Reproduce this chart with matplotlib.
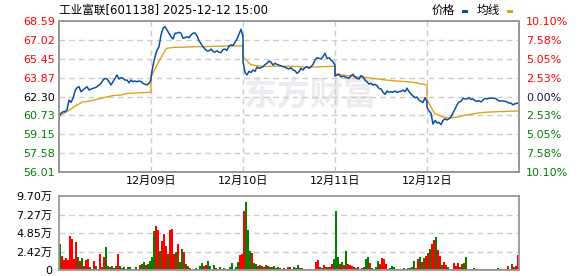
import numpy as np
import matplotlib
matplotlib.use('Agg')
import matplotlib.pyplot as plt
from matplotlib.patches import Rectangle

plt.rcParams['font.family'] = ['DejaVu Sans', 'Noto Sans CJK SC']

# === dados (5 pregões, 工业富联) ===
prev_close = 62.30
day_labels = ['12月09日', '12月10日', '12月11日', '12月12日']
price_ticks = [56.01, 57.58, 59.15, 60.73, 62.30, 63.87, 65.45, 67.02, 68.59]
pct_labels = ['10.10%', '7.58%', '5.05%', '2.53%', '0.00%', '2.53%', '5.05%', '7.58%', '10.10%']
vol_ticks = [0, 2.42, 4.85, 7.27, 9.70]
vol_labels = ['0', '2.42万', '4.85万', '7.27万', '9.70万']

price_d1 = [60.62, 60.90, 61.03, 61.03, 61.17, 62.00, 61.82, 62.15, 62.76, 63.03,
            63.12, 62.70, 62.84, 62.98, 63.12, 62.84, 62.92, 62.98, 63.03, 63.12,
            63.26, 63.40, 63.67, 63.81, 63.76, 63.53, 63.26, 63.53, 63.81, 64.09,
            63.76, 63.87, 63.81, 63.67, 63.67, 63.45, 63.67, 63.53, 63.59, 63.53,
            63.59, 63.53, 63.40, 63.32, 63.26, 63.40, 63.67]
price_d2 = [63.90, 64.90, 65.60, 66.17, 66.45, 67.42, 67.98, 68.12, 67.84, 67.57,
            67.28, 67.09, 67.57, 67.57, 67.65, 67.57, 67.15, 67.20, 67.28, 67.20,
            67.42, 67.57, 67.60, 67.35, 66.95, 66.70, 66.45, 66.25, 66.10, 66.10,
            66.25, 66.05, 66.00, 66.10, 66.00, 65.95, 66.20, 66.25, 66.15, 66.50,
            66.60, 66.55, 66.80, 67.10, 67.50, 67.90, 67.30]
price_d3 = [65.20, 64.30, 64.10, 64.40, 64.30, 64.50, 64.40, 64.75, 64.65, 64.70,
            64.78, 64.95, 65.07, 65.26, 65.15, 64.92, 65.07, 64.97, 64.92, 64.85,
            64.78, 64.75, 64.65, 64.60, 64.70, 64.51, 64.45, 64.23, 64.37, 64.65,
            64.51, 64.70, 64.78, 64.65, 64.78, 64.97, 65.34, 65.53, 65.48, 65.43,
            65.62, 65.90, 65.48, 65.53, 65.34, 65.20, 64.90]
price_d4 = [64.00, 64.09, 64.15, 63.93, 64.00, 63.93, 63.87, 63.81, 64.04, 64.15,
            63.93, 63.81, 63.76, 64.04, 63.93, 63.67, 63.53, 63.34, 63.40, 63.26,
            63.31, 63.20, 62.98, 62.92, 62.65, 62.48, 62.76, 62.65, 62.70, 62.65,
            62.76, 62.65, 62.70, 62.72, 62.84, 62.70, 63.00, 62.70, 62.50, 62.35,
            62.20, 62.25, 62.00, 61.90, 61.80, 62.20, 61.87]
price_d5 = [61.40, 61.10, 60.90, 60.00, 60.30, 60.10, 60.15, 59.95, 60.30, 60.45,
            60.35, 60.45, 60.60, 60.95, 61.25, 61.60, 61.85, 61.90, 62.15, 62.10,
            62.10, 62.20, 62.05, 62.10, 61.95, 61.90, 61.95, 61.85, 62.00, 62.15,
            62.10, 62.15, 62.15, 62.15, 62.15, 62.05, 61.93, 61.93, 61.93, 61.90,
            61.85, 61.75, 61.75, 61.60, 61.70, 61.73, 61.80]

avg_d1 = [60.70, 61.03, 61.45, 61.82, 61.93, 62.07, 62.23, 62.37, 62.42, 62.56, 62.59, 62.62, 62.65]
avg_d2 = [63.90, 65.20, 66.31, 66.40, 66.40, 66.43, 66.45, 66.45, 66.48, 66.48, 66.51, 66.51, 66.53]
avg_d3 = [65.60, 64.95, 64.85, 64.80, 64.82, 64.82, 64.82, 64.80, 64.75, 64.75, 64.78, 64.80, 64.82]
avg_d4 = [64.20, 64.09, 64.00, 63.93, 63.88, 63.81, 63.72, 63.65, 63.59, 63.55, 63.50, 63.38, 63.26]
avg_d5 = [62.00, 60.90, 60.60, 60.50, 60.60, 60.75, 60.85, 60.95, 61.00, 61.03, 61.05, 61.08, 61.10]

# volume em 万 (10 mil ações); r = alta, g = queda
vol_d1 = [3.41, 1.88, 1.31, 1.57, 1.31, 4.50, 4.06, 1.44, 3.63, 1.66, 1.22, 1.53, 0.57, 1.31, 1.44,
          0.35, 0.13, 1.22, 0.57, 0.13, 2.10, 0.35, 1.75, 2.97, 0.57, 0.44, 0.57, 0.26, 0.57, 2.10,
          0.57, 0.26, 0.44, 0.13, 0.44, 0.44, 0.13, 0.13, 0.35, 0.13, 0.70, 0.79, 1.00, 0.70, 0.79, 1.22]
vol_d2 = [1.66, 5.16, 5.81, 5.24, 2.53, 3.85, 4.72, 3.19, 2.10, 5.24, 5.37, 2.10, 2.32, 3.41, 1.00,
          2.75, 2.32, 0.79, 0.57, 0.26, 0.13, 0.13, 0.26, 0.13, 0.57, 0.87, 0.57, 0.70, 1.14, 0.57,
          0.13, 0.70, 0.26, 0.13, 0.35, 0.13, 0.26, 0.13, 0.13, 0.35, 0.87, 0.13, 0.44, 1.00, 2.01, 2.10]
vol_d3 = [7.78, 8.87, 5.24, 2.45, 2.18, 0.87, 0.79, 0.57, 0.70, 0.57, 0.44, 0.70, 0.57, 0.35, 0.44,
          0.57, 0.26, 0.44, 0.26, 0.13, 0.26, 0.13, 0.44, 0.35, 0.13, 0.35, 0.26, 0.66, 0.26, 0.26,
          0.13, 0.13, 0.13, 0.13, 0.13, 0.13, 1.00, 1.31, 0.35, 0.26, 0.70, 0.35, 0.44, 0.44, 0.79, 1.44]
vol_d4 = [7.78, 1.66, 0.79, 1.00, 0.70, 2.53, 0.79, 0.70, 0.57, 0.44, 0.26, 0.44, 0.13, 0.26, 0.44,
          1.44, 1.75, 0.87, 0.26, 0.13, 0.44, 1.22, 0.79, 1.57, 1.44, 0.79, 0.13, 0.26, 0.57, 0.44,
          0.13, 0.13, 0.13, 0.13, 0.26, 0.13, 0.26, 0.26, 0.44, 1.14, 0.26, 1.44, 1.66, 1.00, 1.57, 1.88]
vol_d5 = [2.18, 2.75, 3.41, 3.93, 4.37, 2.62, 1.88, 0.70, 1.00, 0.70, 0.35, 0.13, 0.13, 0.87, 0.57,
          0.87, 0.44, 0.79, 0.87, 1.66, 0.13, 0.13, 0.13, 0.26, 0.13, 0.13, 0.13, 0.13, 0.13, 0.13,
          0.13, 0.13, 0.13, 0.13, 0.13, 0.26, 0.13, 0.13, 0.13, 0.13, 0.57, 0.13, 0.79, 0.44, 0.57, 1.97]
dir_d1 = 'grrrrrrrrgrgrrrgrrgrrrrggrggrrgrgrggrggrrggrgg'
dir_d2 = 'ggrrgrrrgrrrgrggrgrgrrgrggrrggrgrggrgrgggrggrr'
dir_d3 = 'rgggrggrgrgrggrgggrgrgg' + 'rggggrgrrrrrrrrgrrgrrrg'
dir_d4 = 'ggrgrgrrrrgrrgrggrgrggrrrrggggrrrrgrggggrrgrgr'
dir_d5 = 'rgrrgrrgrrgrrrrrrgrgggrg' + 'rrrrrrrrrrr' + 'g' + 'rrrrrr' + 'g' + 'rrr'

price_days = [price_d1, price_d2, price_d3, price_d4, price_d5]
avg_days = [avg_d1, avg_d2, avg_d3, avg_d4, avg_d5]
vol_days = [vol_d1, vol_d2, vol_d3, vol_d4, vol_d5]
dir_days = [dir_d1, dir_d2, dir_d3, dir_d4, dir_d5]

BLUE = '#0b4fa3'
ORANGE = '#e0a21a'
RED = '#ff0000'
GREEN = '#008000'
FRAME = '#999999'
GRID = '#cccccc'
MIN_DAY = 240

W, H = 578, 276
fig = plt.figure(figsize=(W / 100, H / 100), dpi=100)

def px_axes(x0, y0, x1, y1):
    return fig.add_axes([x0 / W, 1 - y1 / H, (x1 - x0) / W, (y1 - y0) / H])

ax = px_axes(59, 21, 519, 172)
axv = px_axes(59, 196, 519, 270)

# === gráfico de preço (séries contínuas entre os dias) ===
px_x, px_y, av_x, av_y = [], [], [], []
for d in range(5):
    px_x += list(np.linspace(d * MIN_DAY, (d + 1) * MIN_DAY, len(price_days[d])))
    px_y += price_days[d]
    av_x += list(np.linspace(d * MIN_DAY, (d + 1) * MIN_DAY, len(avg_days[d])))
    av_y += avg_days[d]
ax.plot(av_x, av_y, color=ORANGE, lw=1.0, zorder=3)
ax.plot(px_x, px_y, color=BLUE, lw=1.1, zorder=4)

yt = price_ticks
ax.set_xlim(0, 5 * MIN_DAY)
ax.set_ylim(yt[0], yt[-1])
for v in yt[1:-1]:
    ax.axhline(v, color=GRID, lw=1, ls=(0, (4, 3)), zorder=1)
for d in range(1, 5):
    ax.axvline(d * MIN_DAY, color=GRID, lw=1, ls=(0, (4, 3)), zorder=1)

def level_color(v, mid='black'):
    if v > prev_close + 0.01:
        return RED
    if v < prev_close - 0.01:
        return GREEN
    return mid

ax.set_yticks(yt)
ax.set_yticklabels([f'{v:.2f}' for v in yt], fontsize=8)
for lab, v in zip(ax.get_yticklabels(), yt):
    lab.set_color(level_color(v))
ax.set_xticks([d * MIN_DAY for d in range(1, 5)])
ax.set_xticklabels(day_labels, fontsize=8)
ax.tick_params(length=0, pad=3)

ax2 = ax.twinx()
ax2.set_ylim(yt[0], yt[-1])
ax2.set_yticks(yt)
ax2.set_yticklabels(pct_labels, fontsize=8)
for lab, v in zip(ax2.get_yticklabels(), yt):
    lab.set_color(level_color(v, '#1a1a40'))
ax2.tick_params(length=0, pad=5)

for a in (ax, ax2, axv):
    for s in a.spines.values():
        s.set_color(FRAME)
        s.set_linewidth(1.3)

# marca d'água
ax.text(0.545, 0.5, '东方财富', transform=ax.transAxes, fontsize=24, fontweight='bold',
        color='#ececf0', ha='center', va='center', zorder=0,
        family=['Noto Sans CJK SC'])

# === volume ===
slot = MIN_DAY / 46
for d in range(5):
    xb = d * MIN_DAY + (np.arange(len(vol_days[d])) + 0.5) * slot
    cols = [RED if c == 'r' else GREEN for c in dir_days[d]]
    axv.bar(xb, vol_days[d], width=slot * 0.8, color=cols, linewidth=0, zorder=2)

axv.set_xlim(0, 5 * MIN_DAY)
axv.set_ylim(0, vol_ticks[-1])
for v in vol_ticks[1:-1]:
    axv.axhline(v, color=GRID, lw=1, ls=(0, (4, 3)), zorder=1)
axv.set_yticks(vol_ticks)
axv.set_yticklabels(vol_labels, fontsize=8)
axv.set_xticks([])
axv.tick_params(length=0, pad=5)

# título e legenda
fig.text(59 / W, 1 - 10 / H, '工业富联[601138] 2025-12-12 15:00', fontsize=8.4,
         ha='left', va='center', color='black')
fig.text(432 / W, 1 - 10 / H, '价格', fontsize=8.4, ha='left', va='center')
fig.add_artist(Rectangle((462 / W, 1 - 13 / H), 6 / W, 3 / H, transform=fig.transFigure,
                         color=BLUE, lw=0))
fig.text(477 / W, 1 - 10 / H, '均线', fontsize=8.4, ha='left', va='center')
fig.add_artist(Rectangle((507 / W, 1 - 13 / H), 6 / W, 3 / H, transform=fig.transFigure,
                         color=ORANGE, lw=0))

fig.savefig('out.png', dpi=100)
